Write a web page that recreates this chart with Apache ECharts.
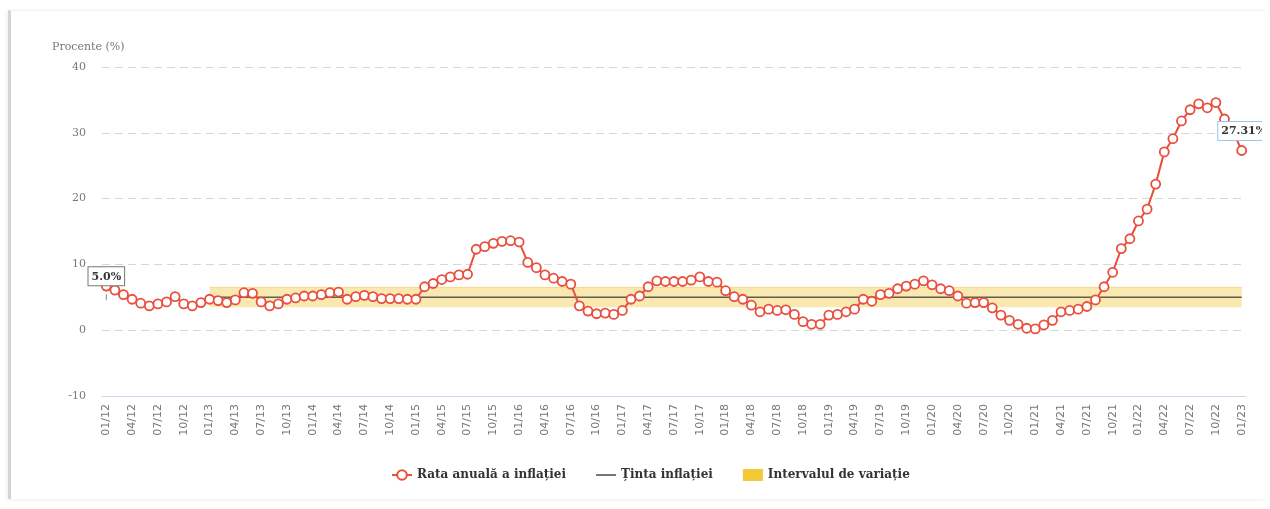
<!DOCTYPE html>
<html>
<head>
<meta charset="utf-8" />
<title>Rata anuală a inflației</title>
<script src="https://cdn.jsdelivr.net/npm/echarts@6/dist/echarts.min.js"></script>
<style>
  html, body { margin: 0; padding: 0; background: #fff; }
  #card {
    position: absolute; left: 8px; top: 10px; width: 1254px; height: 488px;
    border-left: 3px solid #d4d4d4; border-top: 1px solid #f0f0f0;
    box-shadow: -1px 1px 4px rgba(0,0,0,0.08);
  }
  #chart { position: absolute; left: 0; top: 0; width: 1262px; height: 509px; }
</style>
</head>
<body>
<div id="card"></div>
<div id="chart"></div>
<script>
  // luni: 01/12 ... 01/23
  var years = ['12', '13', '14', '15', '16', '17', '18', '19', '20', '21', '22', '23'];
  var monthNames = ['01', '02', '03', '04', '05', '06', '07', '08', '09', '10', '11', '12'];
  var months = [];
  years.forEach(function (y) {
    monthNames.forEach(function (m) {
      if (y === '23' && m !== '01') return;
      months.push(m + '/' + y);
    });
  });

  // rata anuala a inflatiei, %
  var inflatie = [
    6.7, 6.1, 5.4, 4.7, 4.1, 3.7, 4.0, 4.3, 5.1, 4.0, 3.7, 4.2,
    4.7, 4.5, 4.2, 4.6, 5.7, 5.6, 4.3, 3.7, 4.0, 4.7, 4.9, 5.2,
    5.2, 5.4, 5.7, 5.8, 4.7, 5.1, 5.3, 5.1, 4.8, 4.8, 4.8, 4.7,
    4.7, 6.6, 7.1, 7.7, 8.1, 8.4, 8.5, 12.3, 12.7, 13.2, 13.5, 13.6,
    13.4, 10.3, 9.5, 8.4, 7.9, 7.4, 7.0, 3.7, 2.9, 2.5, 2.6, 2.4,
    3.0, 4.7, 5.2, 6.6, 7.5, 7.4, 7.4, 7.4, 7.6, 8.1, 7.4, 7.3,
    6.0, 5.1, 4.7, 3.8, 2.8, 3.2, 3.0, 3.1, 2.4, 1.3, 0.9, 0.9,
    2.3, 2.4, 2.8, 3.2, 4.7, 4.4, 5.4, 5.6, 6.3, 6.7, 7.0, 7.5,
    6.9, 6.3, 6.0, 5.2, 4.1, 4.2, 4.2, 3.4, 2.3, 1.5, 0.9, 0.3,
    0.2, 0.8, 1.5, 2.8, 3.0, 3.2, 3.6, 4.6, 6.6, 8.8, 12.4, 13.9,
    16.6, 18.4, 22.2, 27.1, 29.1, 31.8, 33.5, 34.4, 33.8, 34.6, 32.1, 30.2,
    27.31
  ];

  var tinta = 5.0;          // tinta inflatiei
  var intervalJos = 3.5;    // limita de jos
  var intervalSus = 6.5;    // limita de sus
  var startInterval = 12;   // 01/13

  var tintaData = months.map(function (m, i) { return i >= startInterval ? tinta : null; });
  var bazaData = months.map(function (m, i) { return i >= startInterval ? intervalJos : null; });
  var latimeData = months.map(function (m, i) { return i >= startInterval ? intervalSus - intervalJos : null; });

  var serif = 'DejaVu Serif';
  var last = inflatie.length - 1;
  var inflatieData = inflatie.map(function (v, i) {
    if (i !== last) return v;
    return {
      value: v,
      label: {
        show: true,
        formatter: v.toFixed(2) + '%',
        position: [-18, -23],
        color: '#333',
        fontWeight: 'bold',
        fontSize: 11,
        fontFamily: serif,
        backgroundColor: '#fff',
        borderColor: '#9cc5ec',
        borderWidth: 1,
        padding: [4, 4, 3, 3]
      }
    };
  });

  var myChart = echarts.init(document.getElementById('chart'));

  myChart.setOption({
    animation: false,
    graphic: [{
      type: 'text', left: 52, top: 42,
      style: { text: 'Procente (%)', font: '11px "DejaVu Serif"', fill: '#777' }
    }],
    legend: {
      bottom: 23,
      left: 386,
      itemGap: 30,
      itemWidth: 20,
      itemHeight: 12,
      data: [
        { name: 'Rata anuală a inflației' },
        { name: 'Ținta inflației', icon: 'path://M0,0M0,5.2L20,5.2L20,6.8L0,6.8ZM20,12' },
        { name: 'Intervalul de variație', icon: 'rect', itemStyle: { color: '#f3c937', opacity: 1 } }
      ],
      textStyle: { color: '#333', fontWeight: 'bold', fontSize: 12, fontFamily: serif }
    },
    grid: { left: 102, right: 16, top: 67, bottom: 113 },
    xAxis: {
      type: 'category',
      data: months,
      boundaryGap: true,
      axisLine: { onZero: false, lineStyle: { color: '#ccd6eb' } },
      axisTick: { interval: 0, length: 5, lineStyle: { color: '#ccd6eb' } },
      axisLabel: { interval: 2, rotate: 90, color: '#777', fontSize: 11, margin: 8, fontFamily: 'DejaVu Sans' },
      splitLine: { show: false }
    },
    yAxis: {
      type: 'value',
      min: -10,
      max: 40,
      interval: 10,
      axisLine: { show: false },
      axisTick: { show: false },
      axisLabel: { color: '#777', fontSize: 11, margin: 16, fontFamily: serif },
      splitLine: { lineStyle: { color: '#d6d6d6', type: [8, 5] } }
    },
    series: [
      {
        name: 'baza',
        type: 'line',
        stack: 'interval',
        data: bazaData,
        symbol: 'none',
        silent: true,
        lineStyle: { opacity: 0 },
        z: 1
      },
      {
        name: 'Intervalul de variație',
        type: 'line',
        stack: 'interval',
        data: latimeData,
        symbol: 'none',
        color: '#f3c937',
        lineStyle: { width: 1, color: '#f5d98a' },
        areaStyle: { color: '#f9e4a3', opacity: 0.85 },
        z: 1
      },
      {
        name: 'Ținta inflației',
        type: 'line',
        data: tintaData,
        symbol: 'none',
        color: '#555',
        lineStyle: { width: 1.5, color: '#5e5e56' },
        markPoint: {
          symbol: 'rect',
          symbolSize: [1, 6],
          itemStyle: { color: '#888' },
          data: [{ coord: [0, tinta], value: tinta }],
          label: {
            show: true,
            formatter: tinta.toFixed(1) + '%',
            position: 'top',
            distance: 9,
            color: '#333',
            fontWeight: 'bold',
            fontSize: 11,
            fontFamily: serif,
            backgroundColor: '#fff',
            borderColor: '#777',
            borderWidth: 1,
            padding: [4, 3, 3, 3]
          }
        },
        z: 2
      },
      {
        name: 'Rata anuală a inflației',
        type: 'line',
        data: inflatieData,
        symbol: 'circle',
        symbolSize: 9,
        showAllSymbol: true,
        color: '#e84f3d',
        lineStyle: { width: 2, color: '#e84f3d' },
        itemStyle: { color: '#fff', borderColor: '#e84f3d', borderWidth: 1.8 },
        z: 3
      }
    ]
  });

  window.onresize = function () {
    myChart.resize();
  };
</script>
</body>
</html>
